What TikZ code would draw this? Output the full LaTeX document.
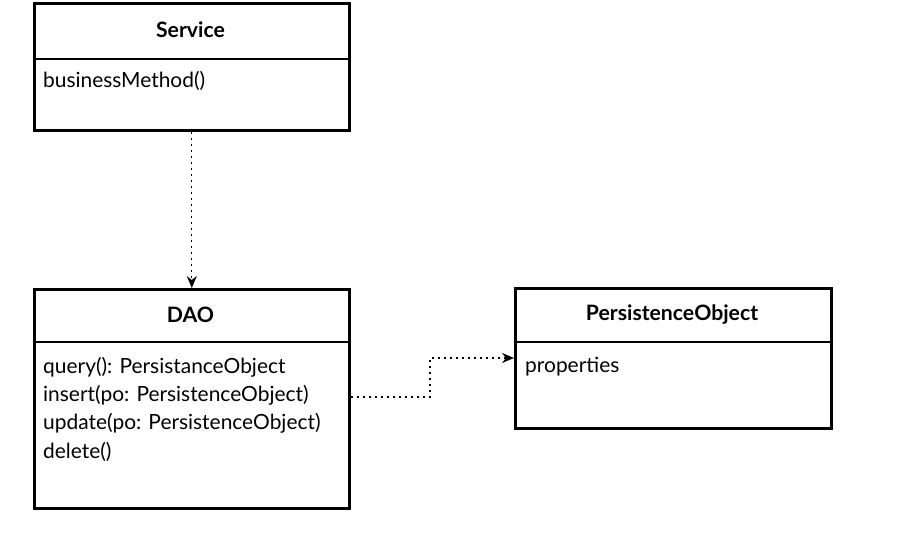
\documentclass[tikz,border=0pt]{standalone}
\usepackage{fontspec}
\setmainfont{Lato}
\usetikzlibrary{arrows.meta}
\begin{document}
\begin{tikzpicture}[x=1bp,y=-1bp,
  classbox/.style={draw, line width=2.6bp, anchor=north west, inner sep=0pt},
  title/.style={font=\fontsize{21.3}{25}\selectfont\bfseries, anchor=center},
  member/.style={font=\fontsize{21}{25}\selectfont, anchor=west, inner sep=0pt},
  dep/.style={line width=1.3bp, dash pattern=on 2.5bp off 3.5bp, -{Stealth[length=12bp,width=10bp,inset=4bp]}}
]
\useasboundingbox (0,0) rectangle (906,536);
% Service
\node[classbox, minimum width=315bp, minimum height=127bp] (svc) at (33,2) {};
\draw[line width=2.6bp] (33,59) -- (348,59);
\node[title] (svct) at (190.5,30) {Service};
\node[member] (svcm) at (43,81) {businessMethod()};
% DAO
\node[classbox, minimum width=315bp, minimum height=219bp] (dao) at (33,288) {};
\draw[line width=2.6bp] (33,342) -- (348,342);
\node[title] (daot) at (190.5,315) {DAO};
\node[member] (m1) at (43,367) {query(): PersistanceObject};
\node[member] (m2) at (43,395) {insert(po: PersistenceObject)};
\node[member] (m3) at (43,423) {update(po: PersistenceObject)};
\node[member] (m4) at (43,452) {delete()};
% PersistenceObject
\node[classbox, minimum width=316bp, minimum height=140bp] (po) at (514,287) {};
\draw[line width=2.6bp] (514,342) -- (830,342);
\node[title] (pot) at (672,315) {PersistenceObject};
\node[member] (pom) at (525,367) {properties};
% connectors
\draw[dep] (svc.south) -- (dao.north);
\coordinate (s) at (dao.east |- 0,397);
\coordinate (e) at (po.west |- 0,358);
\draw[dep] (s) -- (430,397) -- (430,358) -- (e);
\end{tikzpicture}
\end{document}
